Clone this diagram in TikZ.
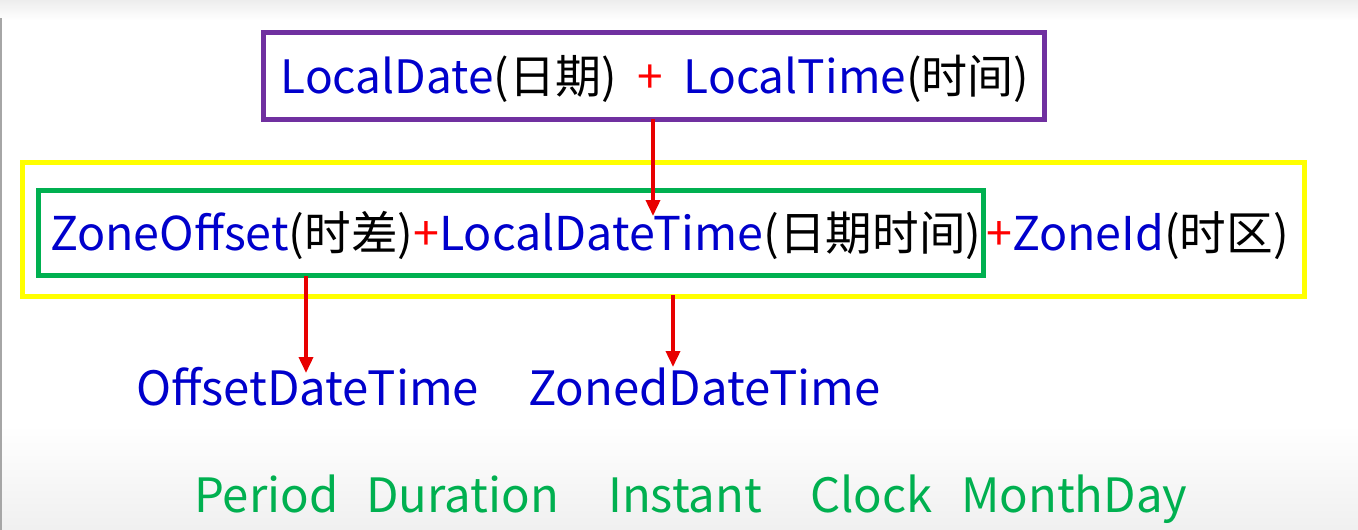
\documentclass[tikz,border=0pt]{standalone}
\usepackage{fontspec}
\setmainfont{Noto Sans CJK SC}
\usetikzlibrary{arrows.meta}
\definecolor{cpurple}{HTML}{7030A0}
\definecolor{cyellow}{HTML}{FFFF00}
\definecolor{cgreen}{HTML}{00B050}
\definecolor{cblue}{HTML}{0000CC}
\definecolor{cred}{HTML}{FF0000}
\definecolor{carrow}{HTML}{E80000}
\newcommand{\bl}[1]{\textcolor{cblue}{#1}}
\newcommand{\rp}{\textcolor{cred}{+}}
\tikzset{
  frame/.style={draw=#1, line width=5pt, inner sep=0pt},
  txt/.style={inner sep=0pt, font=\fontsize{46}{52}\selectfont},
  midtxt/.style={inner sep=0pt, font=\fontsize{46.6}{52}\selectfont},
  bluetxt/.style={inner sep=0pt, font=\fontsize{47.3}{52}\selectfont, text=cblue},
  greentxt/.style={inner sep=0pt, font=\fontsize{47.3}{52}\selectfont, text=cgreen},
  redarrow/.style={draw=carrow, line width=3.6pt, -{Triangle[length=16pt,width=14pt]}}
}
\begin{document}
\begin{tikzpicture}[x=1pt,y=-1pt]
\useasboundingbox (0,0) rectangle (1358,530);
\fill[white] (0,0) rectangle (1358,530);
\fill[top color=gray!14, bottom color=white, draw=none] (0,0) rectangle (1358,20);
\fill[top color=white, bottom color=gray!12, draw=none] (0,425) rectangle (1358,530);
\draw[gray!70, line width=1.5pt] (1,18) -- (1,530);

% top box
\node[frame=cpurple, minimum width=781pt, minimum height=87pt] (pbox) at (653.5,75.5) {};
\node[txt, anchor=base] (ptext) at (655,93) {\bl{LocalDate}(日期)\ \ \rp\ \ \bl{LocalTime}(时间)};

% yellow and green boxes
\node[frame=cyellow, minimum width=1282pt, minimum height=134pt] (ybox) at (663,229) {};
\node[frame=cgreen, minimum width=945pt, minimum height=85pt] (gbox) at (510.5,232.5) {};
\node[midtxt, anchor=base west] (ltext) at (50,250) {\bl{ZoneOffset}(时差)\rp\bl{LocalDateTime}(日期时间)};
\node[midtxt, anchor=base west] (rtext) at (986,250) {\rp\bl{ZoneId}(时区)};

% lower classes
\node[bluetxt, anchor=base west] (odt) at (136,405) {OffsetDateTime};
\node[bluetxt, anchor=base west] (zdt) at (528,405) {ZonedDateTime};

% bottom classes
\node[greentxt, anchor=base west] (period) at (194,512) {Period};
\node[greentxt, anchor=base west] (duration) at (366,512) {Duration};
\node[greentxt, anchor=base west] (instant) at (608,512) {Instant};
\node[greentxt, anchor=base west] (clock) at (810,512) {Clock};
\node[greentxt, anchor=base west] (monthday) at (961,512) {MonthDay};

% arrows
\coordinate (a1s) at (653,119);
\coordinate (a1e) at (653,216);
\coordinate (a2s) at (306,276);
\coordinate (a2e) at (306,373);
\coordinate (a3s) at (673,295);
\coordinate (a3e) at (673,367);
\draw[redarrow] (a1s) -- (a1e);
\draw[redarrow] (a2s) -- (a2e);
\draw[redarrow] (a3s) -- (a3e);
\end{tikzpicture}
\end{document}
